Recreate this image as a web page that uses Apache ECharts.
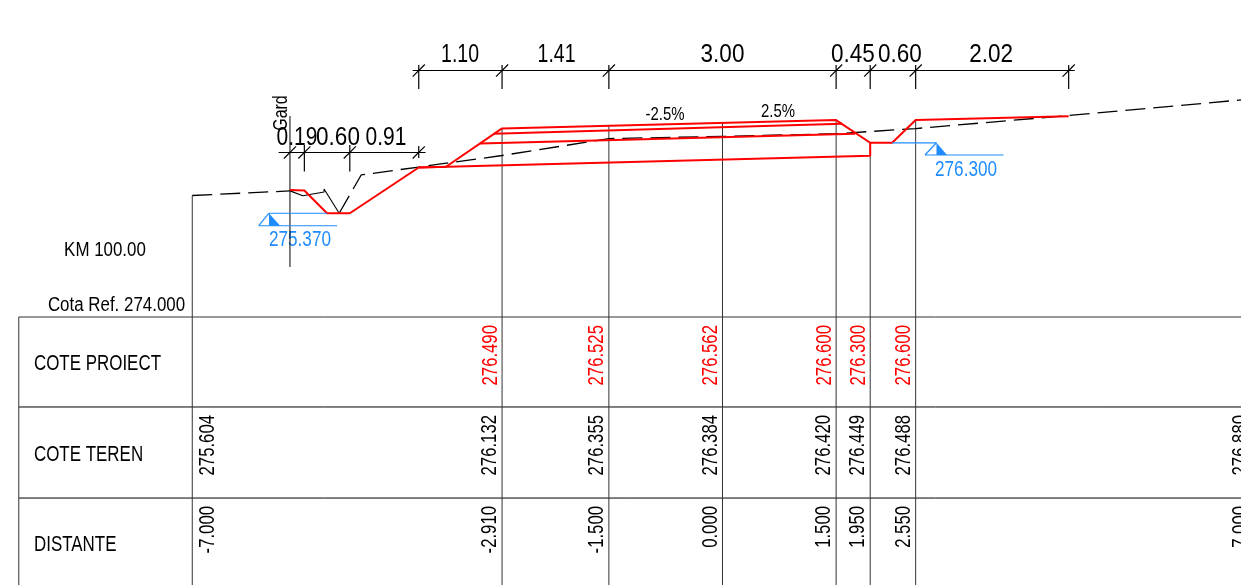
<!DOCTYPE html>
<html>
<head>
<meta charset="utf-8">
<title>Profil transversal KM 100.00</title>
<style>
  html, body { margin: 0; padding: 0; background: #fff; }
  #chart { width: 1241px; height: 585px; }
</style>
<script src="https://cdn.jsdelivr.net/npm/echarts@6/dist/echarts.min.js"></script>
</head>
<body>
<div id="chart"></div>
<script>
// everything is [distance from axis (m), elevation (m)]
var stations = [-7, -2.91, -1.5, 0, 1.5, 1.95, 2.55, 7];
var distLabels = ['-7.000', '-2.910', '-1.500', '0.000', '1.500', '1.950', '2.550', '7.000'];
var terrainLabels = ['275.604', '276.132', '276.355', '276.384', '276.420', '276.449', '276.488', '276.880'];
var projStations = [-2.91, -1.5, 0, 1.5, 1.95, 2.55];
var projLabels = ['276.490', '276.525', '276.562', '276.600', '276.300', '276.600'];
var projValues = [276.490, 276.525, 276.562, 276.600, 276.300, 276.600];

// project outline
var profileLeft = [[-5.71, 275.677], [-5.52, 275.67], [-5.221, 275.37], [-4.92, 275.37], [-4.01, 275.974], [-3.65, 275.984], [-2.91, 276.49], [1.5, 276.6], [1.95, 276.3], [2.24, 276.3], [2.55, 276.6], [4.57, 276.65]];
var layerTwo = [[-3.02, 276.42], [1.58, 276.55]];
var layerThree = [[-3.2, 276.29], [1.75, 276.42]];
var layerBottom = [[-4.01, 275.974], [1.95, 276.13], [1.95, 276.3]];

// existing ground
var groundStart = [[-7, 275.604], [-5.71, 275.665]];
var groundDitch = [[-5.71, 275.665], [-5.54, 275.6], [-5.26, 275.65], [-5.26, 275.69], [-5.06, 275.37]];
var groundEnd = [[-5.06, 275.37], [-4.77, 275.875], [-4.01, 275.98], [-2.91, 276.132], [-1.5, 276.355], [0, 276.384], [1.5, 276.42], [1.95, 276.449], [2.55, 276.488], [4.57, 276.66], [7, 276.88]];

// dimension chains
var dimTopStations = [-4.01, -2.91, -1.5, 1.5, 1.95, 2.55, 4.57];
var dimTopLabels = ['1.10', '1.41', '3.00', '0.45', '0.60', '2.02'];
var dimTopLabelX = [-3.465, -2.191, 0, 1.722, 2.343, 3.545];
var dimLeftStations = [-5.71, -5.52, -4.92, -4.01];
var dimLeftLabels = ['0.19', '0.60', '0.91'];
var dimLeftLabelX = [-5.617, -5.076, -4.442];

// level marks
var levelLeft = 275.37;
var levelRight = 276.3;

var xMin = -9.538, xMax = 6.845, yMin = 270.462, yMax = 278.185;
var tableTop = 274, rowTwo = 272.812, rowThree = 271.61;
var RED = '#ff0000', BLUE = '#1e8cff', BLACK = '#000000', GREY = '#333333';
var FONT = '"Liberation Sans", sans-serif';

var chart_div = echarts.init(document.getElementById('chart'));
var series = [];

function add_line(points, color, width, dash) {
  series.push({
    type: 'line', data: points, symbol: 'none', silent: true,
    lineStyle: { color: color, width: width, type: dash || 'solid', cap: 'butt' }
  });
}

// the drawing uses a narrow cad font, so text gets squeezed with scaleX
// squeeze is one number or one number per label
function add_text(points, labels, color, size, squeeze, rotate, align) {
  series.push({
    type: 'custom', silent: true,
    data: points,
    renderItem: function (params, api) {
      var pos = api.coord([api.value(0), api.value(1)]);
      var i = params.dataIndex;
      return {
        type: 'text',
        x: pos[0] + (rotate ? 2 : 0),
        y: pos[1] + (rotate ? 0 : 2),
        rotation: (rotate || 0) * Math.PI / 180,
        scaleX: squeeze.length ? squeeze[i] : squeeze,
        style: {
          text: labels[i], fill: color,
          fontFamily: FONT, fontSize: size,
          align: align || 'center', verticalAlign: 'middle'
        }
      };
    }
  });
}

function add_ticks(list, top, bottom, dimY) {
  list.forEach(function (x) {
    add_line([[x, top], [x, bottom]], BLACK, 1.2);
    add_line([[x - 0.08, dimY - 0.08], [x + 0.08, dimY + 0.08]], BLACK, 1.2);
  });
}

// table
add_line([[-9.29, tableTop], [xMax, tableTop]], GREY, 1);
add_line([[-9.29, rowTwo], [xMax, rowTwo]], BLACK, 1);
add_line([[-9.29, rowThree], [xMax, rowThree]], BLACK, 1);
add_line([[-9.29, tableTop], [-9.29, yMin]], GREY, 1);

// station verticals
stations.slice(0, 7).forEach(function (x) {
  var k = projStations.indexOf(x);
  var top = k >= 0 ? projValues[k] : 275.604;
  add_line([[x, top], [x, yMin]], GREY, 1);
});
add_line([[-5.71, 276.653], [-5.71, 274.66]], BLACK, 1);

// ground
add_line(groundStart, BLACK, 1.3, [20, 8]);
add_line(groundDitch, BLACK, 1.1);
add_line(groundEnd, BLACK, 1.3, [20, 8]);

// red outline
add_line(profileLeft, RED, 2);
add_line(layerTwo, RED, 2);
add_line(layerThree, RED, 2);
add_line(layerBottom, RED, 2);

// dimensions
add_line([[-4.09, 277.254], [4.65, 277.254]], BLACK, 1.2);
add_ticks(dimTopStations, 277.327, 277.01, 277.254);
add_line([[-5.86, 276.172], [-3.92, 276.172]], BLACK, 1.2);
add_ticks(dimLeftStations.slice(1, 3), 276.271, 275.921, 276.172);
add_ticks([dimLeftStations[3]], 276.257, 276.099, 276.172);
add_ticks([dimLeftStations[0]], 276.172, 276.172, 276.172);

// labels without a 1 run wider in the original font
add_text(dimTopLabelX.map(function (x) { return [x, 277.485]; }), dimTopLabels, BLACK, 25, [0.78, 0.78, 0.9, 0.9, 0.9, 0.9]);
add_text(dimLeftLabelX.map(function (x) { return [x, 276.389]; }), dimLeftLabels, BLACK, 25, [0.84, 0.9, 0.84]);

// level marks, outline part
add_line([[-5.987, levelLeft], [-5.221, levelLeft]], BLUE, 1.2);
add_line([[-6.122, 275.205], [-5.089, 275.205]], BLUE, 1.2);
add_line([[-6.122, 275.205], [-5.987, levelLeft]], BLUE, 1.2);
add_line([[2.24, levelRight], [2.825, levelRight]], BLUE, 1.2);
add_line([[2.673, 276.139], [3.71, 276.139]], BLUE, 1.2);
add_line([[2.673, 276.139], [2.825, levelRight]], BLUE, 1.2);

// level marks, filled half of the triangle
series.push({
  type: 'custom', silent: true,
  data: [[-5.987, levelLeft, -5.84, 275.205], [2.825, levelRight, 2.964, 276.139]],
  renderItem: function (params, api) {
    var apex = api.coord([api.value(0), api.value(1)]);
    var corner = api.coord([api.value(2), api.value(3)]);
    var foot = api.coord([api.value(0), api.value(3)]);
    return { type: 'polygon', shape: { points: [apex, corner, foot] }, style: { fill: BLUE } };
  }
});
add_text([[-5.578, 275.043], [3.215, 275.967]], ['275.370', '276.300'], BLUE, 22, 0.78);

// loose labels
add_text([[-5.842, 276.693]], ['Gard'], BLACK, 20, 0.8, 90);
add_text([[-0.759, 276.693], [0.733, 276.733]], ['-2.5%', '2.5%'], BLACK, 18, 0.83);
add_text([[-8.152, 274.898], [-8.0, 274.172]], ['KM 100.00', 'Cota Ref. 274.000'], BLACK, 20, 0.845);
add_text([[-9.09, 273.406], [-9.09, 272.205], [-9.09, 271.017]], ['COTE PROIECT', 'COTE TEREN', 'DISTANTE'], BLACK, 22, 0.77, 0, 'left');

// table values, written upward next to each station
add_text(projStations.map(function (x) { return [x - 0.178, 273.894]; }), projLabels, RED, 22, 0.76, 90, 'right');
add_text(stations.map(function (x, i) { return [x + (i === 0 ? 0.185 : -0.185), 272.706]; }), terrainLabels, BLACK, 22, 0.76, 90, 'right');
add_text(stations.map(function (x, i) { return [x + (i === 0 ? 0.185 : -0.185), 271.505]; }), distLabels, BLACK, 22, 0.76, 90, 'right');

var option = {
  animation: false,
  backgroundColor: '#ffffff',
  tooltip: { show: false },
  legend: { show: false },
  grid: { left: 0, right: 0, top: 0, bottom: 0 },
  xAxis: { type: 'value', min: xMin, max: xMax, show: false },
  yAxis: { type: 'value', min: yMin, max: yMax, show: false },
  series: series
};
chart_div.setOption(option, true);
</script>
</body>
</html>
